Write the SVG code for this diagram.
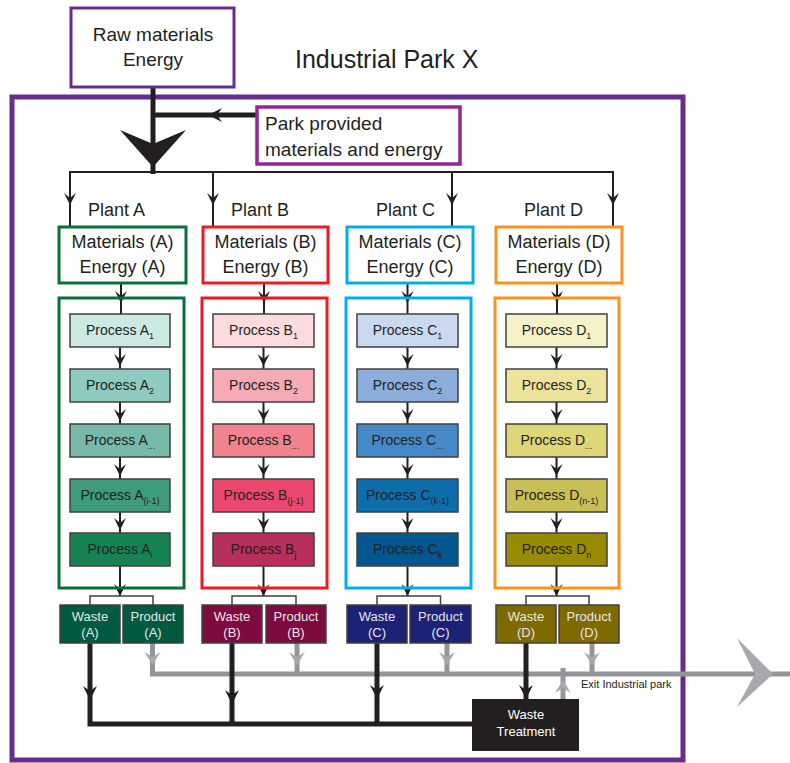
<svg xmlns="http://www.w3.org/2000/svg" xmlns:xlink="http://www.w3.org/1999/xlink" width="790" height="763" viewBox="0 0 790 763">
<style>
text{font-family:"Liberation Sans",Arial,sans-serif;fill:#231f20}
.big{font-size:18px}
.ttl{font-size:25px}
.pt{font-size:14px;text-anchor:middle}
.sub{font-size:9px}
.wp{font-size:13px;text-anchor:middle;fill:#e6e7e8}
.mid{text-anchor:middle}
.pbox{stroke:#414042;stroke-width:1.5}
.wbox{stroke:#414042;stroke-width:1.5}
.thin{fill:none;stroke:#231f20;stroke-width:2}
.thick{fill:none;stroke:#231f20;stroke-width:5}
.gray{fill:none;stroke:#939598;stroke-width:5}
.brk{fill:none;stroke:#414042;stroke-width:1.5}
.mat{fill:#fff;stroke-width:3}
</style>
<defs>
<path id="ah" d="M0,0 L-6,-12 L0,-7 L6,-12 Z" fill="#231f20"/>
<path id="ahw" d="M0,0 L-7,-14 L0,-9 L7,-14 Z" fill="#231f20"/>
<path id="ahg" d="M0,0 L-8,-13 L0,-8 L8,-13 Z" fill="#a7a9ac"/>
</defs>
<rect width="790" height="763" fill="#fff"/>

<g id="park">
<rect x="12" y="97" width="671" height="663" fill="none" stroke="#662d91" stroke-width="5"/>
<text class="ttl" x="295" y="68">Industrial Park X</text>
</g>

<g id="connectors">
<path class="thick" d="M153,87 V174" stroke-width="4.5"/>
<path class="thick" d="M153,115 H257" stroke-width="4.5"/>
<use xlink:href="#ahw" transform="translate(208,115) rotate(90)"/>
<path d="M153,167 L120,130 L153,144 L186,130 Z" fill="#231f20"/>
<path class="thin" d="M70,227 V172 H613 V227"/>
<path class="thin" d="M213,172 V227"/>
<path class="thin" d="M452,172 V227"/>
<use xlink:href="#ah" x="70" y="205"/>
<use xlink:href="#ah" x="213" y="205"/>
<use xlink:href="#ah" x="452" y="205"/>
<use xlink:href="#ah" x="613" y="205"/>

<path class="thin" d="M121,283 V314 M120,347 V369 M120,402 V424 M120,457 V479 M120,512 V533 M120,566 V596"/>
<use xlink:href="#ah" x="121" y="303"/><use xlink:href="#ah" x="120" y="366"/><use xlink:href="#ah" x="120" y="421"/><use xlink:href="#ah" x="120" y="476"/><use xlink:href="#ah" x="120" y="530"/><use xlink:href="#ah" x="120" y="596"/>
<path class="thin" d="M264,283 V314 M263.5,347 V369 M263.5,402 V424 M263.5,457 V479 M263.5,512 V533 M263.5,566 V596"/>
<use xlink:href="#ah" x="264" y="303"/><use xlink:href="#ah" x="263.5" y="366"/><use xlink:href="#ah" x="263.5" y="421"/><use xlink:href="#ah" x="263.5" y="476"/><use xlink:href="#ah" x="263.5" y="530"/><use xlink:href="#ah" x="263.5" y="596"/>
<path class="thin" d="M407.5,283 V314 M407.5,347 V369 M407.5,402 V424 M407.5,457 V479 M407.5,512 V533 M407.5,566 V596"/>
<use xlink:href="#ah" x="407.5" y="303"/><use xlink:href="#ah" x="407.5" y="366"/><use xlink:href="#ah" x="407.5" y="421"/><use xlink:href="#ah" x="407.5" y="476"/><use xlink:href="#ah" x="407.5" y="530"/><use xlink:href="#ah" x="407.5" y="596"/>
<path class="thin" d="M557,283 V314 M556.5,347 V369 M556.5,402 V424 M556.5,457 V479 M556.5,512 V533 M556.5,566 V596"/>
<use xlink:href="#ah" x="557" y="303"/><use xlink:href="#ah" x="556.5" y="366"/><use xlink:href="#ah" x="556.5" y="421"/><use xlink:href="#ah" x="556.5" y="476"/><use xlink:href="#ah" x="556.5" y="530"/><use xlink:href="#ah" x="556.5" y="596"/>

<path class="brk" d="M90,605 V596 H153 V605 M232,605 V596 H296 V605 M377,605 V596 H440.5 V605 M526,605 V596 H589 V605"/>

<path class="gray" d="M152.5,643 V674 H790"/>
<path class="gray" d="M297,643 V674 M447,643 V674 M592,643 V674 M563,699 V668"/>
<use xlink:href="#ahg" x="152.5" y="665"/>
<use xlink:href="#ahg" x="297" y="665"/>
<use xlink:href="#ahg" x="447" y="665"/>
<use xlink:href="#ahg" x="592" y="665"/>
<use xlink:href="#ahg" transform="translate(563,680) rotate(180)"/>
<path d="M773,674 L737,638 L755,674 L737,707 Z" fill="#a7a9ac"/>

<path class="thick" d="M90,643 V724 H473"/>
<path class="thick" d="M232,643 V724 M377,643 V724 M526,643 V699"/>
<use xlink:href="#ahw" x="90" y="700"/>
<use xlink:href="#ahw" x="232" y="704"/>
<use xlink:href="#ahw" x="377" y="699"/>
<use xlink:href="#ahw" x="526" y="699"/>
</g>

<g id="raw">
<rect x="71" y="8" width="163" height="79" fill="#fff" stroke="#662d91" stroke-width="3"/>
<text class="big mid" x="153" y="41" style="font-size:19px">Raw materials</text>
<text class="big mid" x="153" y="66" style="font-size:19px">Energy</text>
</g>

<g id="parkprovided">
<rect x="257" y="107" width="203" height="57" fill="#fff" stroke="#92278f" stroke-width="3.5"/>
<text class="big" x="265" y="130" style="font-size:19px">Park provided</text>
<text class="big" x="265" y="156" style="font-size:19px">materials and energy</text>
</g>

<g id="plantA">
<text class="big" x="88" y="216">Plant A</text>
<rect class="mat" x="59" y="227" width="127" height="56" stroke="#0a6e3e"/>
<text class="big mid" x="122.5" y="248">Materials (A)</text>
<text class="big mid" x="122.5" y="273">Energy (A)</text>
<rect x="59" y="298" width="125" height="290" fill="none" stroke="#0a6e3e" stroke-width="3"/>
</g>
<g id="processA1"><rect class="pbox" x="70" y="314" width="100" height="33" fill="#cde9e3"/><text class="pt" x="120" y="335">Process A<tspan class="sub" dy="4">1</tspan></text></g>
<g id="processA2"><rect class="pbox" x="70" y="369" width="100" height="33" fill="#8fcbc0"/><text class="pt" x="120" y="390">Process A<tspan class="sub" dy="4">2</tspan></text></g>
<g id="processA3"><rect class="pbox" x="70" y="424" width="100" height="33" fill="#77b9a9"/><text class="pt" x="120" y="445">Process A<tspan class="sub" dy="4">...</tspan></text></g>
<g id="processA4"><rect class="pbox" x="70" y="479" width="100" height="33" fill="#3e9b7b"/><text class="pt" x="120" y="500">Process A<tspan class="sub" dy="4">(i-1)</tspan></text></g>
<g id="processA5"><rect class="pbox" x="70" y="533" width="100" height="33" fill="#168452"/><text class="pt" x="120" y="554">Process A<tspan class="sub" dy="4">i</tspan></text></g>
<g id="wasteA"><rect class="wbox" x="60" y="605" width="60" height="38" fill="#005a42"/><text class="wp" x="90" y="621">Waste</text><text class="wp" x="90" y="637">(A)</text></g>
<g id="productA"><rect class="wbox" x="123" y="605" width="60" height="38" fill="#005a42"/><text class="wp" x="153" y="621">Product</text><text class="wp" x="153" y="637">(A)</text></g>

<g id="plantB">
<text class="big" x="231" y="216">Plant B</text>
<rect class="mat" x="203" y="227" width="125" height="56" stroke="#ed1c24"/>
<text class="big mid" x="265.5" y="248">Materials (B)</text>
<text class="big mid" x="265.5" y="273">Energy (B)</text>
<rect x="202" y="298" width="125" height="290" fill="none" stroke="#ed1c24" stroke-width="3"/>
</g>
<g id="processB1"><rect class="pbox" x="213" y="314" width="101" height="33" fill="#fbdbde"/><text class="pt" x="263.5" y="335">Process B<tspan class="sub" dy="4">1</tspan></text></g>
<g id="processB2"><rect class="pbox" x="213" y="369" width="101" height="33" fill="#f6abb4"/><text class="pt" x="263.5" y="390">Process B<tspan class="sub" dy="4">2</tspan></text></g>
<g id="processB3"><rect class="pbox" x="213" y="424" width="101" height="33" fill="#f1838f"/><text class="pt" x="263.5" y="445">Process B<tspan class="sub" dy="4">...</tspan></text></g>
<g id="processB4"><rect class="pbox" x="213" y="479" width="101" height="33" fill="#ec476d"/><text class="pt" x="263.5" y="500">Process B<tspan class="sub" dy="4">(j-1)</tspan></text></g>
<g id="processB5"><rect class="pbox" x="213" y="533" width="101" height="33" fill="#b72f5a"/><text class="pt" x="263.5" y="554">Process B<tspan class="sub" dy="4">j</tspan></text></g>
<g id="wasteB"><rect class="wbox" x="202" y="605" width="60" height="38" fill="#7f0a40"/><text class="wp" x="232" y="621">Waste</text><text class="wp" x="232" y="637">(B)</text></g>
<g id="productB"><rect class="wbox" x="266" y="605" width="60" height="38" fill="#7f0a40"/><text class="wp" x="296" y="621">Product</text><text class="wp" x="296" y="637">(B)</text></g>

<g id="plantC">
<text class="big" x="376" y="216">Plant C</text>
<rect class="mat" x="347" y="227" width="126" height="56" stroke="#00aeef"/>
<text class="big mid" x="410" y="248">Materials (C)</text>
<text class="big mid" x="410" y="273">Energy (C)</text>
<rect x="346" y="298" width="125" height="290" fill="none" stroke="#00aeef" stroke-width="3"/>
</g>
<g id="processC1"><rect class="pbox" x="357" y="314" width="101" height="33" fill="#cad9ef"/><text class="pt" x="407.5" y="335">Process C<tspan class="sub" dy="4">1</tspan></text></g>
<g id="processC2"><rect class="pbox" x="357" y="369" width="101" height="33" fill="#8aadd9"/><text class="pt" x="407.5" y="390">Process C<tspan class="sub" dy="4">2</tspan></text></g>
<g id="processC3"><rect class="pbox" x="357" y="424" width="101" height="33" fill="#4689c8"/><text class="pt" x="407.5" y="445">Process C<tspan class="sub" dy="4">...</tspan></text></g>
<g id="processC4"><rect class="pbox" x="357" y="479" width="101" height="33" fill="#0e6eab"/><text class="pt" x="407.5" y="500">Process C<tspan class="sub" dy="4">(k-1)</tspan></text></g>
<g id="processC5"><rect class="pbox" x="357" y="533" width="101" height="33" fill="#04568f"/><text class="pt" x="407.5" y="554">Process C<tspan class="sub" dy="4">k</tspan></text></g>
<g id="wasteC"><rect class="wbox" x="347" y="605" width="60" height="38" fill="#1c2276"/><text class="wp" x="377" y="621">Waste</text><text class="wp" x="377" y="637">(C)</text></g>
<g id="productC"><rect class="wbox" x="410" y="605" width="61" height="38" fill="#1c2276"/><text class="wp" x="440.5" y="621">Product</text><text class="wp" x="440.5" y="637">(C)</text></g>

<g id="plantD">
<text class="big" x="524" y="216">Plant D</text>
<rect class="mat" x="496" y="227" width="126" height="56" stroke="#f7941d"/>
<text class="big mid" x="559" y="248">Materials (D)</text>
<text class="big mid" x="559" y="273">Energy (D)</text>
<rect x="495" y="298" width="124" height="290" fill="none" stroke="#f7941d" stroke-width="3"/>
</g>
<g id="processD1"><rect class="pbox" x="506" y="314" width="101" height="33" fill="#f5f1c9"/><text class="pt" x="556.5" y="335">Process D<tspan class="sub" dy="4">1</tspan></text></g>
<g id="processD2"><rect class="pbox" x="506" y="369" width="101" height="33" fill="#ece49b"/><text class="pt" x="556.5" y="390">Process D<tspan class="sub" dy="4">2</tspan></text></g>
<g id="processD3"><rect class="pbox" x="506" y="424" width="101" height="33" fill="#ded677"/><text class="pt" x="556.5" y="445">Process D<tspan class="sub" dy="4">...</tspan></text></g>
<g id="processD4"><rect class="pbox" x="506" y="479" width="101" height="33" fill="#cabe56"/><text class="pt" x="556.5" y="500">Process D<tspan class="sub" dy="4">(n-1)</tspan></text></g>
<g id="processD5"><rect class="pbox" x="506" y="533" width="101" height="33" fill="#998b00"/><text class="pt" x="556.5" y="554">Process D<tspan class="sub" dy="4">n</tspan></text></g>
<g id="wasteD"><rect class="wbox" x="496" y="605" width="60" height="38" fill="#7f6a00"/><text class="wp" x="526" y="621">Waste</text><text class="wp" x="526" y="637">(D)</text></g>
<g id="productD"><rect class="wbox" x="559" y="605" width="60" height="38" fill="#7f6a00"/><text class="wp" x="589" y="621">Product</text><text class="wp" x="589" y="637">(D)</text></g>

<g id="wastetreatment">
<rect x="472" y="699" width="107" height="52" fill="#231f20"/>
<text class="wp" x="526" y="719" style="fill:#fff">Waste</text>
<text class="wp" x="526" y="736" style="fill:#fff">Treatment</text>
</g>

<g id="exitlabel">
<text x="581" y="688" style="font-size:11px">Exit Industrial park</text>
</g>
</svg>
